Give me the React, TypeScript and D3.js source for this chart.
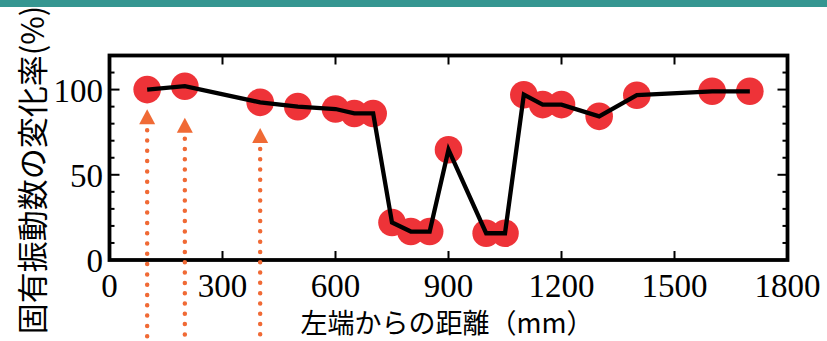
import React from "react";
import * as d3 from "d3";

// Distance from the left end (mm) and change rate of natural frequency (%)
const distances = [100, 200, 400, 500, 600, 650, 700, 750, 800, 850, 900, 1000, 1050, 1100, 1150, 1200, 1300, 1400, 1600, 1700];
const changeRates = [100, 102, 92.5, 90, 88.6, 86, 86, 22, 16.7, 16.7, 64.7, 15.7, 15.7, 97, 91.2, 91.2, 84.3, 96.7, 99, 99];

const xTicks = [0, 300, 600, 900, 1200, 1500, 1800];
const yTicks = [0, 50, 100];
const yMinorTicks = [10, 20, 30, 40, 60, 70, 80, 90, 110];

// Marked positions (arrows pointing up from below)
const markerPositions = [100, 200, 400];
const markerTips = [88.5, 83.5, 77.5];

const W = 827;
const H = 341;
const margin = { left: 109.5, right: 827 - 787.5, top: 55.5, bottom: 341 - 260 };

export default function App() {
  const x = d3.scaleLinear().domain([0, 1800]).range([margin.left, W - margin.right]);
  const y = d3.scaleLinear().domain([0, 120]).range([H - margin.bottom, margin.top]);

  const pts: [number, number][] = distances.map((d, i) => [d, changeRates[i]]);
  const line = d3
    .line<[number, number]>()
    .x((d) => x(d[0]))
    .y((d) => y(d[1]));

  const x0 = x(0), x1 = x(1800), y0 = y(0), y1 = y(120);
  const serif = "'Liberation Serif', 'DejaVu Serif', serif";
  const cjk = "'Noto Sans CJK JP', 'Noto Sans', sans-serif";
  const orange = "#f06a35";
  const red = "#ee3338";

  return (
    <svg
      width={W}
      height={H}
      viewBox={`0 0 ${W} ${H}`}
      style={{ position: "absolute", left: 0, top: 0, display: "block", background: "#fff" }}
    >
      <rect x={0} y={0} width={W} height={7} fill="#359691" />

      {/* data markers */}
      {pts.map((p, i) => (
        <circle key={i} cx={x(p[0])} cy={y(p[1])} r={13.8} fill={red} />
      ))}
      <path d={line(pts) || ""} fill="none" stroke="#000" strokeWidth={4.3} strokeLinejoin="miter" />

      {/* ticks */}
      {xTicks.slice(1, -1).map((t) => (
        <g key={t} stroke="#000" strokeWidth={2}>
          <line x1={x(t)} x2={x(t)} y1={y0} y2={y0 - 9} />
          <line x1={x(t)} x2={x(t)} y1={y1} y2={y1 + 9} />
        </g>
      ))}
      {yTicks.map((t) => (
        <g key={t} stroke="#000" strokeWidth={2}>
          <line x1={x0} x2={x0 + 10} y1={y(t)} y2={y(t)} />
          <line x1={x1} x2={x1 - 10} y1={y(t)} y2={y(t)} />
        </g>
      ))}
      {yMinorTicks.map((t) => (
        <g key={t} stroke="#000" strokeWidth={2}>
          <line x1={x0} x2={x0 + 5} y1={y(t)} y2={y(t)} />
          <line x1={x1} x2={x1 - 5} y1={y(t)} y2={y(t)} />
        </g>
      ))}

      {/* frame */}
      <rect x={x0} y={y1} width={x1 - x0} height={y0 - y1} fill="none" stroke="#000" strokeWidth={3.8} />

      {/* tick labels */}
      {xTicks.map((t) => (
        <text key={t} x={x(t)} y={297} textAnchor="middle" fontFamily={serif} fontSize={33} fill="#000">
          {t}
        </text>
      ))}
      {yTicks.map((t) => (
        <text key={t} x={103} y={y(t) + 12} textAnchor="end" fontFamily={serif} fontSize={33} fill="#000">
          {t}
        </text>
      ))}

      {/* arrows */}
      {markerPositions.map((m, i) => {
        const cx = x(m);
        const ty = y(markerTips[i]);
        return (
          <g key={m}>
            <path d={`M${cx},${ty} L${cx + 8},${ty + 15} L${cx - 8},${ty + 15} Z`} fill={orange} />
            <line
              x1={cx}
              x2={cx}
              y1={ty + 21}
              y2={H + 10}
              stroke={orange}
              strokeWidth={4.5}
              strokeLinecap="round"
              strokeDasharray="0 10.3"
            />
          </g>
        );
      })}

      {/* axis titles */}
      <text x={447} y={333} textAnchor="middle" fontFamily={cjk} fontSize={27} fill="#000">
        左端からの距離（mm）
      </text>
      <text
        transform="translate(30,170) rotate(-90)"
        textAnchor="middle"
        dominantBaseline="central"
        fontFamily={cjk}
        fontSize={31}
        fill="#000"
      >
        固有振動数の変化率(%)
      </text>
    </svg>
  );
}
